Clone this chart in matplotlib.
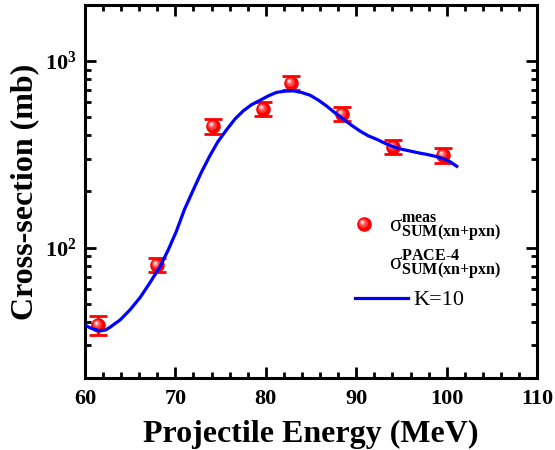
import numpy as np
import matplotlib
matplotlib.use("Agg")
import matplotlib.pyplot as plt
from matplotlib.lines import Line2D
from matplotlib.path import Path
from matplotlib.legend_handler import HandlerTuple
from matplotlib.ticker import LogLocator, MultipleLocator, NullFormatter

plt.rcParams["font.family"] = ["Liberation Serif", "DejaVu Serif"]
plt.rcParams["mathtext.fontset"] = "custom"
plt.rcParams["mathtext.rm"] = "Liberation Serif"
plt.rcParams["mathtext.bf"] = "Liberation Serif:bold"
plt.rcParams["mathtext.it"] = "Liberation Serif:italic"

# measured summed cross-sections
energy = [61.5, 68.0, 74.2, 79.7, 82.8, 88.4, 94.1, 99.6]
sigma_meas = [38.6, 81, 447, 557, 762, 523, 347, 314]
sigma_err = [4.6, 7, 40, 50, 65, 45, 30, 28]

# PACE-4 calculation, K=10
pace_e = [60.0, 60.5, 61.0, 61.7, 62.3, 62.8, 63.9, 65.0, 66.1, 67.2, 68.3,
          69.2, 70.1, 71.0, 72.0, 72.9, 73.8, 74.7, 75.7, 76.6, 77.5, 78.4,
          79.4, 80.3, 81.2, 82.1, 83.0, 83.9, 84.9, 85.8, 86.7, 87.6, 88.6,
          89.5, 90.4, 91.3, 92.3, 93.2, 94.1, 95.0, 96.0, 96.9, 97.8, 98.7,
          99.6, 100.4, 101.1]
pace_sigma = [38.5, 37.3, 36.5, 35.8, 36.2, 37.5, 41, 46.5, 54, 65, 79,
              97, 122, 160, 205, 255, 310, 370, 431, 490, 541, 583,
              618, 652, 680, 690, 693, 680, 656, 618, 575, 530, 487,
              452, 422, 398, 380, 362, 347, 337, 329, 322, 316, 309,
              300, 288, 273]

RED = "#ff0000"
BLUE = "#0000ff"


def blob(cx, cy, r):
    """Off-centre disc used as a highlight on the sphere markers."""
    circ = Path.circle((cx, cy), r)
    verts = np.vstack([circ.vertices, [[1, 1], [-1, -1]]])
    codes = np.concatenate([circ.codes, [Path.MOVETO, Path.MOVETO]])
    return Path(verts, codes)


# shaded-sphere layers: (marker, colour)
shade = [
    ("o", RED),
    (blob(-0.15, 0.15, 0.62), "#ff3b3b"),
    (blob(-0.25, 0.25, 0.38), "#ff8080"),
    (blob(-0.3, 0.3, 0.2), "#ffd6d6"),
    (blob(-0.32, 0.32, 0.09), "#ffffff"),
]
MS = 10.5

fig = plt.figure(figsize=(5.55, 4.5), dpi=100)
ax = fig.add_axes([0.153, 0.16, 0.815, 0.829])

ax.errorbar(energy, sigma_meas, yerr=sigma_err, fmt="none", ecolor=RED,
            elinewidth=2, capsize=6.5, capthick=2, zorder=3)
for mk, col in shade:
    ax.plot(energy, sigma_meas, linestyle="none", marker=mk, ms=MS,
            mfc=col, mec="none", zorder=4)

ax.plot(pace_e, pace_sigma, color=BLUE, lw=2.3, zorder=5,
        solid_joinstyle="round")

ax.set_yscale("log")
ax.set_xlim(60, 110)
ax.set_ylim(20, 2000)

ax.xaxis.set_major_locator(MultipleLocator(10))
ax.xaxis.set_minor_locator(MultipleLocator(2))
ax.yaxis.set_major_locator(LogLocator(base=10, numticks=10))
ax.yaxis.set_minor_locator(LogLocator(base=10, subs=np.arange(2, 10), numticks=20))
ax.yaxis.set_minor_formatter(NullFormatter())

ax.tick_params(which="both", direction="in", top=True, right=True, width=2)
ax.tick_params(which="major", length=8, labelsize=16)
ax.tick_params(axis="x", which="major", pad=8)
ax.tick_params(axis="y", which="major", pad=6)
ax.tick_params(which="minor", length=4)
for lab in ax.get_xticklabels() + ax.get_yticklabels():
    lab.set_fontweight("bold")
for sp in ax.spines.values():
    sp.set_linewidth(2.2)

ax.set_xlabel("Projectile Energy (MeV)", fontsize=23, fontweight="bold", labelpad=8)
ax.set_ylabel("Cross-section (mb)", fontsize=23, fontweight="bold", labelpad=4)

# legend: the two sigma entries, then the K=10 line on its own
meas_handle = tuple(Line2D([], [], linestyle="none", marker=mk, ms=MS,
                           mfc=col, mec="none") for mk, col in shade)
pace_handle = Line2D([], [], linestyle="none")
k_handle = Line2D([], [], color=BLUE, lw=2.3)
sig_labels = [
    r"σ$^{\mathbf{meas}}_{\mathbf{SUM(xn{+}pxn)}}$",
    r"σ$^{\mathbf{PACE\text{-}4}}_{\mathbf{SUM(xn{+}pxn)}}$",
]
leg1 = ax.legend([meas_handle, pace_handle], sig_labels,
                 handler_map={tuple: HandlerTuple(ndivide=1)},
                 loc="center left", bbox_to_anchor=(0.591, 0.351),
                 frameon=False, fontsize=16.5, borderpad=0, borderaxespad=0,
                 handlelength=1.0, handletextpad=0.6, labelspacing=0.15)
ax.add_artist(leg1)
ax.legend([k_handle], ["K=10"], loc="center left",
          bbox_to_anchor=(0.597, 0.209), frameon=False, fontsize=16,
          borderpad=0, borderaxespad=0, handlelength=2.4, handletextpad=0.25)

fig.savefig("out.png", dpi=100)
